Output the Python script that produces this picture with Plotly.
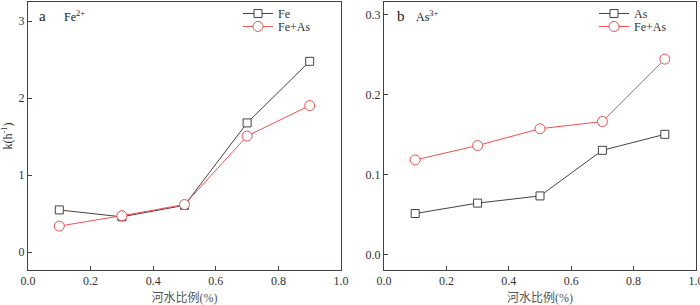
import plotly.graph_objects as go

# data
ratio = [0.1, 0.3, 0.5, 0.7, 0.9]
fe_only = [0.55, 0.46, 0.61, 1.68, 2.48]
fe_with_as = [0.34, 0.475, 0.62, 1.51, 1.905]
as_only = [0.051, 0.064, 0.073, 0.130, 0.150]
as_with_fe = [0.118, 0.136, 0.157, 0.166, 0.244]
x_ticks = [0.0, 0.2, 0.4, 0.6, 0.8, 1.0]
x_labels = ["0.0", "0.2", "0.4", "0.6", "0.8", "1.0"]
ya_ticks = [0, 1, 2, 3]
yb_ticks = [0.0, 0.1, 0.2, 0.3]

W, H = 700, 305
ML, MR, MT, MB = 28, 4, 1.5, 35
PW = W - ML - MR
PH = H - MT - MB
dark = "#4a4040"
red = "#f0504f"
FONT = "Liberation Serif, Times New Roman, Noto Sans CJK SC, serif"

fig = go.Figure()

def add(x, y, name, color, symbol, xa, ya, legend, size):
    fig.add_trace(go.Scatter(
        x=x, y=y, name=name, mode="lines+markers",
        line=dict(color=color, width=1),
        marker=dict(symbol=symbol, size=size, color="white",
                    line=dict(color=color, width=1)),
        xaxis=xa, yaxis=ya, legend=legend))

add(ratio, fe_only, "Fe", dark, "square", "x", "y", "legend", 8)
add(ratio, fe_with_as, "Fe+As", red, "circle", "x", "y", "legend2", 10)
add(ratio, as_only, "As", dark, "square", "x2", "y2", "legend3", 8)
add(ratio, as_with_fe, "Fe+As", red, "circle", "x2", "y2", "legend4", 10)

axis_common = dict(showline=True, linecolor=dark, linewidth=1, mirror=True,
                   ticks="inside", ticklen=4, tickcolor=dark, showgrid=False,
                   zeroline=False, automargin=False, ticklabeloverflow="allow",
                   tickfont=dict(family=FONT, size=12, color="#333"))

xt = dict(text="河水比例(%)", standoff=6, font=dict(family=FONT, size=12, color="#555"))


def leg(px, py):
    return dict(x=(px - ML) / PW, y=1 - (py - MT) / PH,
                xanchor="left", yanchor="middle",
                bgcolor="rgba(0,0,0,0)", font=dict(family=FONT, size=12, color="#333"),
                itemwidth=30)


fig.update_layout(
    width=W, height=H, margin=dict(l=ML, r=MR, t=MT, b=MB, autoexpand=False),
    paper_bgcolor="white", plot_bgcolor="white",
    font=dict(family=FONT, size=12, color="#333"),
    xaxis=dict(domain=[0, (341 - ML) / PW], range=[0, 1], tickvals=x_ticks,
               ticktext=x_labels, anchor="y", title=xt, **axis_common),
    yaxis=dict(range=[-0.23, 3.25], tickvals=ya_ticks, anchor="x",
               title=dict(text="k(h<sup>-1</sup>)", standoff=4,
                          font=dict(family=FONT, size=12, color="#333")),
               **axis_common),
    xaxis2=dict(domain=[(384 - ML) / PW, 1], range=[0, 1.0], tickvals=x_ticks,
                ticktext=x_labels, anchor="y2", title=xt, **axis_common),
    yaxis2=dict(range=[-0.0196, 0.3154], tickvals=yb_ticks,
                tickformat=".1f", anchor="x2", **axis_common),
    legend=leg(238, 13),
    legend2=leg(238, 26),
    legend3=leg(594, 13),
    legend4=leg(594, 26),
    showlegend=True,
)

def label(px, py, text, size=13):
    fig.add_annotation(x=(px - ML) / PW, y=1 - (py - MT) / PH,
                       xref="paper", yref="paper",
                       text=text, showarrow=False, xanchor="left", yanchor="middle",
                       font=dict(family=FONT, size=size, color="#222"))

label(37, 16, "a", 15)
label(62, 16, "Fe<sup>2+</sup>", 12)
label(395, 16, "b", 15)
label(414, 16, "As<sup>3+</sup>", 12)

fig.write_html("out.html", config={"displayModeBar": False},
               post_script="document.body.style.margin='0';document.body.style.overflow='hidden';")
